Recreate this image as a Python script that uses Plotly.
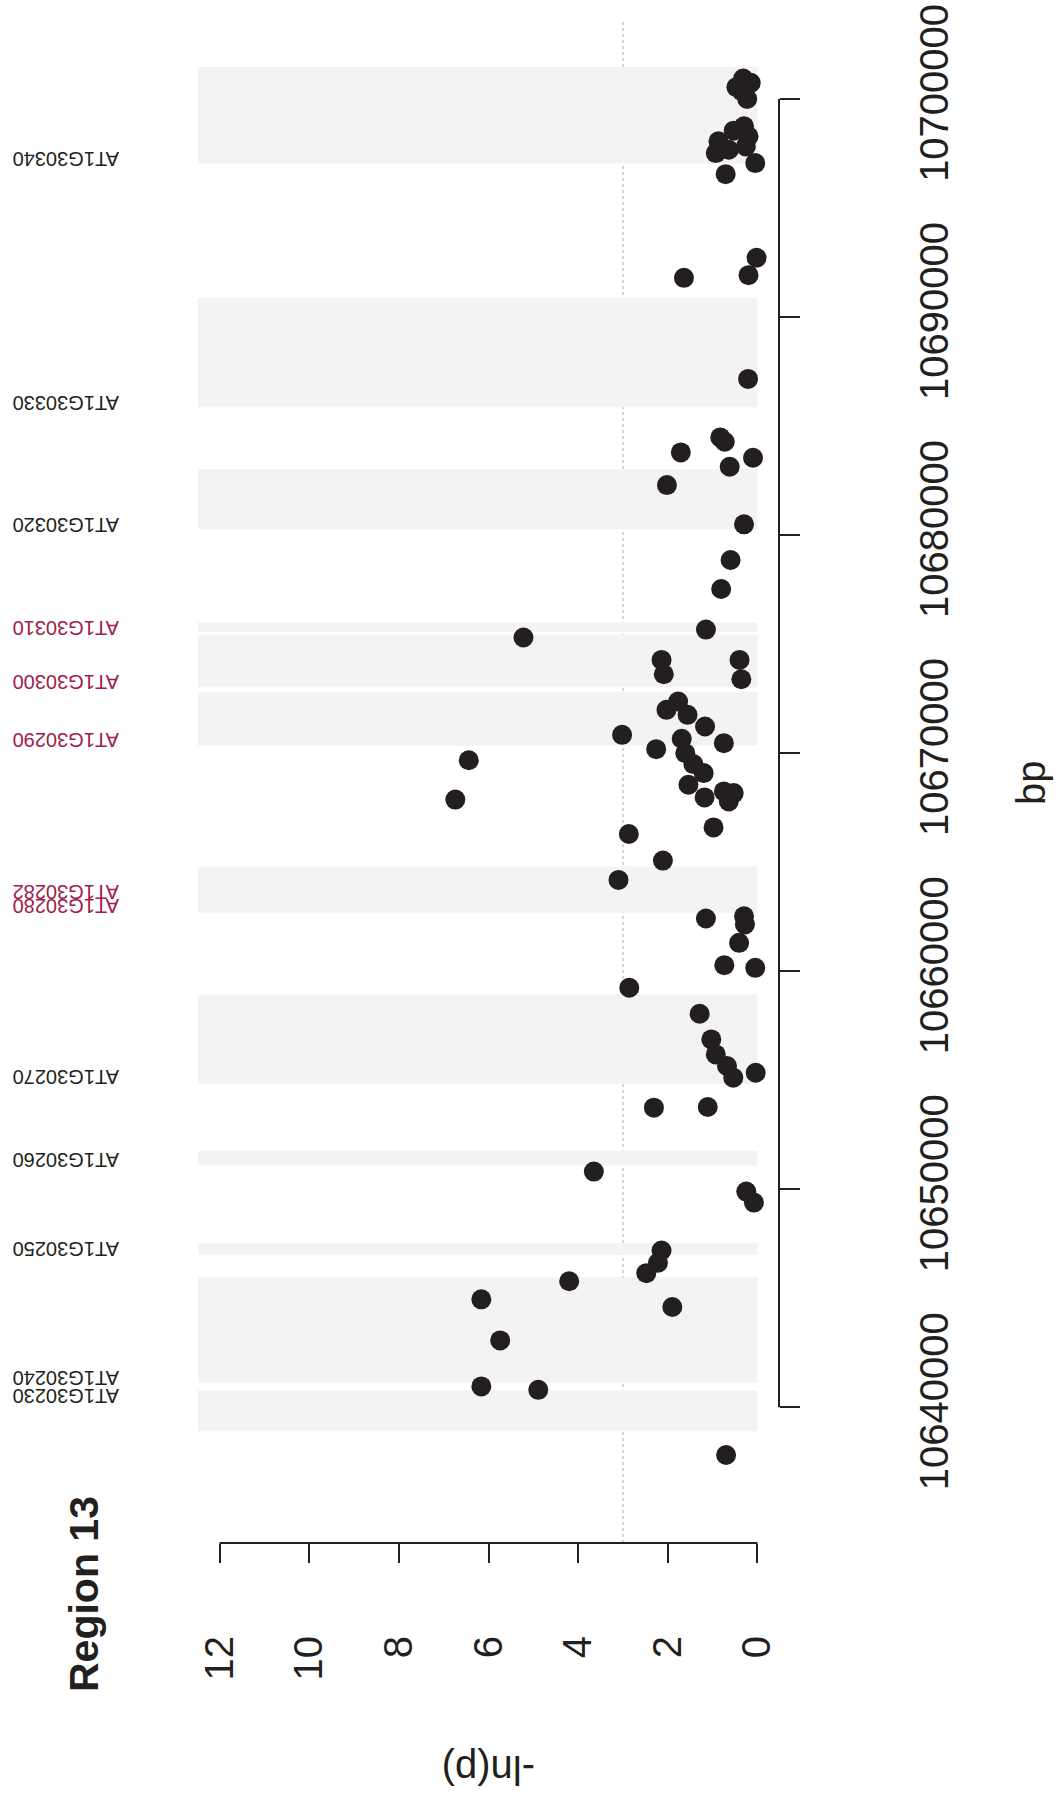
import plotly.graph_objects as go

# Association scan for region 13: marker position (bp) and -ln(p)
snp_bp = [
    10700936, 10700537, 10700736, 10700000, 10700353, 10698742, 10698543, 10698282,
    10698052, 10697822, 10697515, 10697668, 10697055, 10696548, 10692714, 10691793,
    10691916, 10687160, 10684476, 10684277, 10683787, 10683543, 10683130, 10682291,
    10680489, 10678855, 10677526, 10675663, 10675300, 10674274, 10673617, 10674274,
    10673388, 10671983, 10672365, 10671754, 10671220, 10670838, 10670456, 10670181,
    10670655, 10669998, 10669494, 10669082, 10668548, 10667967, 10668242, 10668166,
    10667784, 10666593, 10666288, 10669670, 10667868, 10665070, 10664184, 10662413,
    10662520, 10662138, 10661298, 10660275, 10660153, 10659237, 10658045, 10656870,
    10656183, 10655648, 10655114, 10655343, 10653739, 10653770, 10650807, 10649891,
    10649387, 10647187, 10646628, 10646149, 10645781, 10644599, 10640799, 10637812,
    10644951, 10643066, 10640958,
]
snp_neg_ln_p = [
    0.32, 0.47, 0.15, 0.23, 0.35, 0.30, 0.53, 0.20,
    0.87, 0.26, 0.93, 0.64, 0.05, 0.71, 0.02, 1.64,
    0.20, 0.21, 0.83, 0.73, 1.71, 0.10, 0.62, 2.02,
    0.30, 0.60, 0.81, 1.15, 5.22, 2.14, 2.09, 0.40,
    0.36, 2.03, 1.77, 1.56, 1.17, 3.02, 0.75, 2.26,
    1.69, 1.61, 1.43, 1.20, 1.54, 1.18, 0.75, 0.53,
    0.64, 0.98, 2.87, 6.44, 6.74, 2.11, 3.10, 1.15,
    0.30, 0.28, 0.41, 0.74, 0.05, 2.86, 1.29, 1.03,
    0.93, 0.68, 0.54, 0.04, 2.31, 1.11, 3.65, 0.25,
    0.08, 2.14, 2.22, 2.48, 4.20, 1.90, 4.89, 0.70,
    6.16, 5.74, 6.16,
]

# Gene models in the window
gene_names = [
    "AT1G30340", "AT1G30330", "AT1G30320", "AT1G30310", "AT1G30300", "AT1G30290",
    "AT1G30282", "AT1G30280", "AT1G30270", "AT1G30260", "AT1G30250", "AT1G30240",
    "AT1G30230",
]
gene_start = [
    10697043, 10685864, 10680262, 10675562, 10673017, 10670335,
    10663400, 10662678, 10654838, 10651078, 10646997, 10641129,
    10638905,
]
gene_end = [
    10701463, 10690867, 10683022, 10675998, 10675424, 10672811,
    10664500, 10664810, 10658941, 10651766, 10647525, 10645966,
    10640785,
]
gene_label_bp = [
    10697249, 10686085, 10680491, 10675768, 10673294, 10670589,
    10663641, 10662960, 10655137, 10651344, 10647251, 10641312,
    10640524,
]
gene_candidate = [
    False, False, False, True, True, True,
    True, True, False, False, False, False,
    False,
]

threshold = 3
score_ticks = [0, 2, 4, 6, 8, 10, 12]
bp_ticks = [10640000, 10650000, 10660000, 10670000, 10680000, 10690000, 10700000]

score_range = [12.48, -0.48]
bp_range = [10633776, 10703572]

INK = "#231F20"
BAND = "#F2F3F2"
CANDIDATE = "#A0204A"
FONT = "Liberation Sans, Arial, Helvetica, sans-serif"

fig = go.Figure()

fig.add_trace(go.Scatter(
    x=snp_neg_ln_p, y=snp_bp, mode="markers",
    marker=dict(size=20, color=INK, line=dict(width=0)),
    showlegend=False, hoverinfo="x+y",
))

shapes = []
# gene bands
for s, e in zip(gene_start, gene_end):
    shapes.append(dict(type="rect", xref="x", yref="y", x0=0, x1=score_range[0],
                       y0=s, y1=e, fillcolor=BAND, line=dict(width=0), layer="below"))
# significance threshold
shapes.append(dict(type="line", xref="x", yref="paper", x0=threshold, x1=threshold,
                   y0=0, y1=1, line=dict(color="#ABABAB", width=1, dash="dot"), layer="below"))
# axis lines spanning the tick range only
shapes.append(dict(type="line", xref="paper", yref="y", x0=1, x1=1,
                   y0=bp_ticks[0], y1=bp_ticks[-1], line=dict(color=INK, width=2)))
shapes.append(dict(type="line", xref="x", yref="paper", x0=score_ticks[0], x1=score_ticks[-1],
                   y0=0, y1=0, line=dict(color=INK, width=2)))

annotations = []
for name, pos, cand in zip(gene_names, gene_label_bp, gene_candidate):
    annotations.append(dict(
        text=name, xref="paper", yref="y", x=-0.2272, y=pos,
        xanchor="center", yanchor="middle", textangle=180, showarrow=False,
        font=dict(family=FONT, size=20, color=CANDIDATE if cand else INK),
    ))
annotations.append(dict(
    text="bp", xref="paper", yref="paper", x=1.4337, y=0.5,
    xanchor="center", yanchor="middle", textangle=-90, showarrow=False,
    font=dict(family=FONT, size=40, color=INK),
))
annotations.append(dict(
    text="-ln(p)", xref="x", yref="paper", x=6, y=-0.149,
    xanchor="center", yanchor="middle", textangle=180, showarrow=False,
    font=dict(family=FONT, size=40, color=INK),
))
annotations.append(dict(
    text="<b>Region 13</b>", xref="paper", yref="paper", x=-0.1962, y=-0.0335,
    xanchor="center", yanchor="middle", textangle=-90, showarrow=False,
    font=dict(family=FONT, size=41, color=INK),
))

fig.update_layout(
    width=1060, height=1796,
    margin=dict(l=198, r=281, t=21, b=253, pad=0),
    paper_bgcolor="white", plot_bgcolor="white",
    shapes=shapes, annotations=annotations,
    font=dict(family=FONT, color=INK),
    xaxis=dict(
        range=score_range, tickvals=score_ticks, ticks="outside", ticklen=19,
        tickwidth=2, tickcolor=INK, tickangle=-90, ticklabelstandoff=57,
        tickfont=dict(family=FONT, size=40, color=INK), automargin=False,
        showgrid=False, zeroline=False, showline=False,
    ),
    yaxis=dict(
        range=bp_range, side="right", tickvals=bp_ticks, tickformat="d",
        ticks="outside", ticklen=20, tickwidth=2, tickcolor=INK, tickangle=-90,
        ticklabelstandoff=100, tickfont=dict(family=FONT, size=40, color=INK),
        automargin=False, showgrid=False, zeroline=False, showline=False,
    ),
)

fig.write_html("out.html")
